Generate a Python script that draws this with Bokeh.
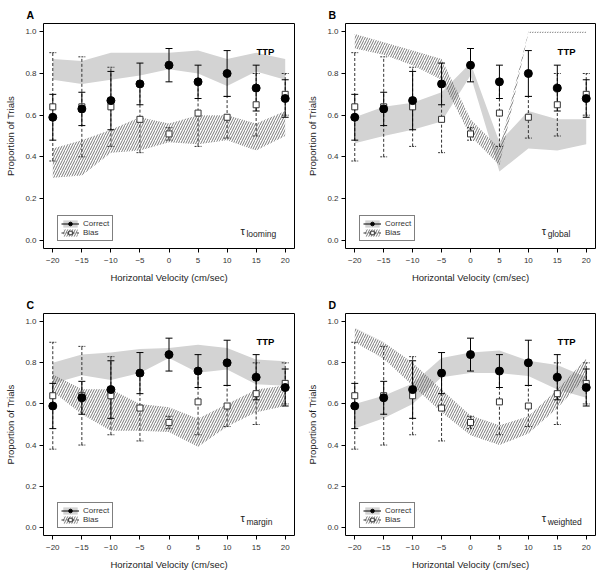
from bokeh.plotting import figure
from bokeh.layouts import column, row
from bokeh.models import Legend, LegendItem, Label, FixedTicker, Range1d
from bokeh.embed import file_html
from bokeh.resources import INLINE

# ---------------- data ----------------
velocity = [-20, -15, -10, -5, 0, 5, 10, 15, 20]
x_ticks = [-20, -15, -10, -5, 0, 5, 10, 15, 20]
y_ticks = [0.0, 0.2, 0.4, 0.6, 0.8, 1.0]

# observed data (same in all panels)
correct_mean = [0.59, 0.63, 0.67, 0.75, 0.84, 0.76, 0.80, 0.73, 0.68]
correct_lo = [0.48, 0.55, 0.53, 0.65, 0.76, 0.68, 0.69, 0.62, 0.59]
correct_hi = [0.70, 0.71, 0.81, 0.85, 0.92, 0.84, 0.91, 0.84, 0.77]

bias_mean = [0.64, 0.64, 0.64, 0.58, 0.51, 0.61, 0.59, 0.65, 0.70]
bias_lo = [0.38, 0.40, 0.45, 0.42, 0.48, 0.45, 0.49, 0.50, 0.60]
bias_hi = [0.90, 0.88, 0.83, 0.74, 0.54, 0.77, 0.69, 0.80, 0.80]

# model bands: A tau_looming
a_correct_lo = [0.77, 0.75, 0.77, 0.79, 0.82, 0.80, 0.74, 0.81, 0.77]
a_correct_hi = [0.87, 0.86, 0.90, 0.90, 0.90, 0.91, 0.87, 0.90, 0.87]
a_bias_lo = [0.30, 0.31, 0.42, 0.43, 0.47, 0.46, 0.48, 0.43, 0.50]
a_bias_hi = [0.44, 0.48, 0.53, 0.59, 0.56, 0.60, 0.60, 0.56, 0.62]

# B tau_global
b_correct_lo = [0.465, 0.50, 0.53, 0.57, 0.79, 0.33, 0.44, 0.43, 0.46]
b_correct_hi = [0.59, 0.64, 0.66, 0.71, 0.85, 0.47, 0.62, 0.58, 0.58]
b_bias_lo = [0.92, 0.89, 0.84, 0.77, 0.50, 0.36, 0.995, 0.995, 0.995]
b_bias_hi = [0.99, 0.95, 0.91, 0.87, 0.58, 0.44, 1.0, 1.0, 1.0]

# C tau_margin
c_correct_lo = [0.70, 0.74, 0.717, 0.75, 0.824, 0.752, 0.768, 0.696, 0.688]
c_correct_hi = [0.80, 0.84, 0.85, 0.867, 0.872, 0.888, 0.872, 0.816, 0.808]
c_bias_lo = [0.66, 0.55, 0.47, 0.47, 0.464, 0.392, 0.49, 0.56, 0.59]
c_bias_hi = [0.744, 0.672, 0.672, 0.60, 0.584, 0.528, 0.60, 0.67, 0.69]

# D tau_weighted
d_correct_lo = [0.48, 0.53, 0.60, 0.73, 0.75, 0.75, 0.736, 0.67, 0.63]
d_correct_hi = [0.60, 0.64, 0.70, 0.824, 0.85, 0.86, 0.81, 0.79, 0.73]
d_bias_lo = [0.90, 0.82, 0.69, 0.56, 0.448, 0.40, 0.456, 0.58, 0.73]
d_bias_hi = [0.97, 0.90, 0.80, 0.67, 0.544, 0.496, 0.54, 0.67, 0.82]

panel_letters = ["A", "B", "C", "D"]
model_subscripts = ["looming", "global", "margin", "weighted"]

FONT = "Liberation Sans"
GRAY = "#d3d3d3"


def make_panel(letter, subscript, c_lo, c_hi, b_lo, b_hi, w, h, bl, br, bt, bb):
    p = figure(width=w, height=h, output_backend="svg", toolbar_location=None,
               x_range=Range1d(-21.6, 21.6), y_range=Range1d(-0.04, 1.04),
               min_border_left=bl, min_border_right=br,
               min_border_top=bt, min_border_bottom=bb)
    p.xgrid.visible = False
    p.ygrid.visible = False
    p.outline_line_color = "black"
    p.outline_line_width = 1
    p.background_fill_color = "white"
    p.border_fill_color = "white"

    # panel letter as title, shifted left of the frame
    p.title.text = letter
    p.title.text_font = FONT
    p.title.text_font_size = "10.5px"
    p.title.text_font_style = "bold"
    p.title.text_color = "black"
    p.title.align = "left"
    p.title.offset = -17
    p.title.standoff = 6

    for ax in (p.xaxis[0], p.yaxis[0]):
        ax.axis_line_color = None
        ax.major_tick_line_color = "black"
        ax.major_tick_out = 4
        ax.major_tick_in = 0
        ax.minor_tick_line_color = None
        ax.major_label_text_font = FONT
        ax.major_label_text_font_size = "8px"
        ax.major_label_text_color = "#333333"
        ax.axis_label_text_font = FONT
        ax.axis_label_text_font_size = "9.5px"
        ax.axis_label_text_font_style = "normal"
        ax.axis_label_text_color = "#222222"
    p.xaxis.ticker = FixedTicker(ticks=x_ticks)
    p.yaxis.ticker = FixedTicker(ticks=y_ticks)
    p.yaxis.major_label_overrides = {t: f"{t:.1f}" for t in y_ticks}
    p.xaxis.axis_label = "Horizontal Velocity (cm/sec)"
    p.yaxis.axis_label = "Proportion of Trials"
    p.xaxis.major_label_standoff = 5
    p.xaxis.axis_label_standoff = 6
    p.yaxis.major_label_standoff = 3
    p.yaxis.axis_label_standoff = 6

    # model bands
    r_cband = p.varea(x=velocity, y1=c_lo, y2=c_hi, fill_color=GRAY)
    r_bband = p.varea(x=velocity, y1=b_lo, y2=b_hi, fill_color="white", fill_alpha=0,
                      hatch_pattern="/", hatch_scale=5, hatch_weight=0.8,
                      hatch_color="#555555")

    # bias error bars (dashed)
    cap = 0.6
    r_bstem = p.segment(x0=velocity, y0=bias_lo, x1=velocity, y1=bias_hi,
                        line_color="#333333", line_width=1, line_dash="3 2")
    p.segment(x0=[v - cap for v in velocity], y0=bias_lo,
              x1=[v + cap for v in velocity], y1=bias_lo,
              line_color="#333333", line_width=1, line_dash="2 1")
    p.segment(x0=[v - cap for v in velocity], y0=bias_hi,
              x1=[v + cap for v in velocity], y1=bias_hi,
              line_color="#333333", line_width=1, line_dash="2 1")
    # correct error bars (solid)
    r_cstem = p.segment(x0=velocity, y0=correct_lo, x1=velocity, y1=correct_hi,
                        line_color="black", line_width=1)
    p.segment(x0=[v - cap for v in velocity], y0=correct_lo,
              x1=[v + cap for v in velocity], y1=correct_lo,
              line_color="black", line_width=1)
    p.segment(x0=[v - cap for v in velocity], y0=correct_hi,
              x1=[v + cap for v in velocity], y1=correct_hi,
              line_color="black", line_width=1)

    r_bpts = p.scatter(x=velocity, y=bias_mean, marker="square", size=6,
                       fill_color="white", line_color="#333333", line_width=1)
    r_cpts = p.scatter(x=velocity, y=correct_mean, marker="circle", size=8,
                       fill_color="black", line_color="black")

    legend = Legend(items=[
        LegendItem(label="Correct", renderers=[r_cband, r_cstem, r_cpts]),
        LegendItem(label="Bias", renderers=[r_bband, r_bstem, r_bpts]),
    ], location=(14, 7))
    legend.border_line_color = "black"
    legend.border_line_width = 1
    legend.background_fill_color = "white"
    legend.background_fill_alpha = 1
    legend.label_text_font = FONT
    legend.label_text_font_size = "8px"
    legend.label_text_color = "#333333"
    legend.glyph_width = 18
    legend.glyph_height = 9
    legend.label_height = 9
    legend.label_standoff = 4
    legend.spacing = 0
    legend.padding = 3
    legend.margin = 0
    p.add_layout(legend)

    p.add_layout(Label(x=16.6, y=0.905, text="TTP", text_font=FONT,
                       text_font_size="9.5px", text_font_style="bold",
                       text_align="center", text_baseline="middle",
                       text_color="black"))
    p.add_layout(Label(x=12.3, y=0.045, text="\u03c4", text_font=FONT,
                       text_font_size="11px", text_align="left",
                       text_baseline="alphabetic", text_color="#222222"))
    p.add_layout(Label(x=12.3, y=0.028, x_offset=6, text=subscript, text_font=FONT,
                       text_font_size="8.5px", text_align="left",
                       text_baseline="alphabetic", text_color="#222222"))
    return p


pA = make_panel(panel_letters[0], model_subscripts[0], a_correct_lo, a_correct_hi,
                a_bias_lo, a_bias_hi, 304, 293, 43, 10, 23, 45)
pB = make_panel(panel_letters[1], model_subscripts[1], b_correct_lo, b_correct_hi,
                b_bias_lo, b_bias_hi, 296, 293, 40, 5, 23, 45)
pC = make_panel(panel_letters[2], model_subscripts[2], c_correct_lo, c_correct_hi,
                c_bias_lo, c_bias_hi, 304, 284, 43, 10, 17, 42)
pD = make_panel(panel_letters[3], model_subscripts[3], d_correct_lo, d_correct_hi,
                d_bias_lo, d_bias_hi, 296, 284, 40, 5, 17, 42)

layout = column(row(pA, pB), row(pC, pD))

open("out.html", "w").write(file_html(layout, INLINE))
